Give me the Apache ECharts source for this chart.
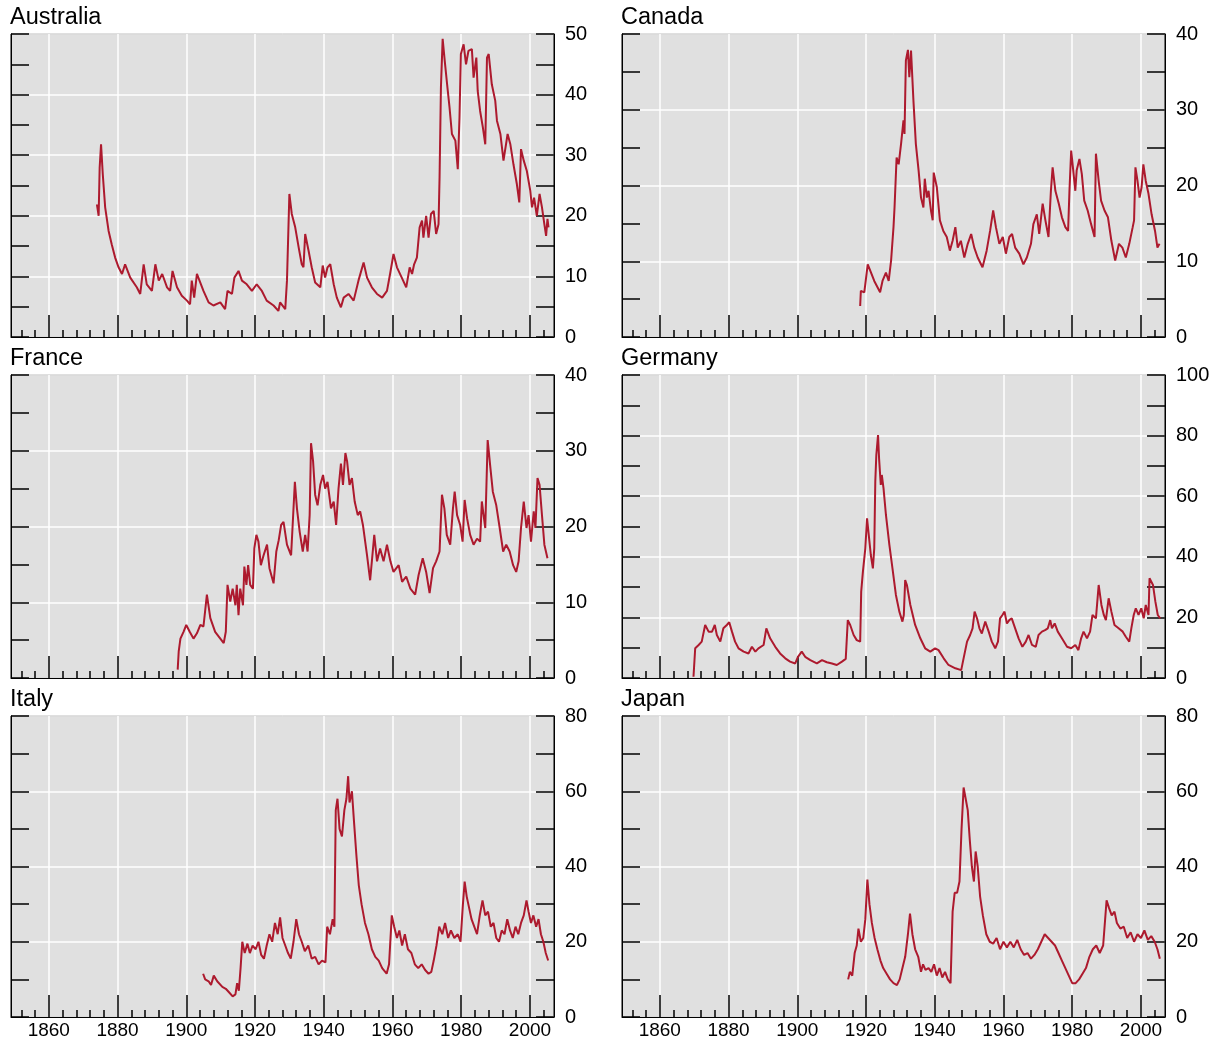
<!DOCTYPE html>
<html>
<head>
<meta charset="utf-8">
<script src="https://cdn.jsdelivr.net/npm/echarts@6/dist/echarts.min.js"></script>
<style>
html,body{margin:0;padding:0;background:#fff;}
#chart{width:1214px;height:1040px;}
</style>
</head>
<body>
<div id="chart"></div>
<script>
// ---- data: [year, value] ----
const australia = [[1874.0,21.9],[1874.5,20.0],[1874.8,28],[1875.2,31.8],[1875.7,26.9],[1876.4,21.4],[1877.4,17.5],[1878.3,15.3],[1879.3,13.1],[1880.3,11.5],[1881.3,10.4],[1882.2,12.0],[1883.7,9.8],[1885.6,8.2],[1886.6,7.1],[1887.6,12.0],[1888.5,8.7],[1890,7.6],[1891,12.0],[1892,9.3],[1893,10.4],[1894.4,8.2],[1895.3,7.6],[1896,10.9],[1897.3,8.2],[1898.7,6.8],[1900.2,6.0],[1901.1,5.4],[1901.6,9.3],[1902.3,6.5],[1903.1,10.4],[1905,7.6],[1906.5,5.7],[1907.9,5.2],[1909.9,5.7],[1911.3,4.6],[1912,7.6],[1913.3,7.1],[1914,9.8],[1915.2,10.9],[1916.2,9.3],[1917.6,8.7],[1919.1,7.6],[1920.5,8.7],[1922,7.6],[1923.4,6.0],[1925.4,5.2],[1926.8,4.3],[1927.3,5.7],[1928.8,4.6],[1929.3,9.3],[1930,23.6],[1930.7,20.3],[1931.7,18.1],[1932.7,14.8],[1933.6,12.0],[1934.1,11.5],[1934.6,17.0],[1935.6,14.2],[1936.5,11.5],[1937.5,9.0],[1939,8.2],[1939.7,11.8],[1940.4,9.8],[1941.1,11.5],[1941.9,12.0],[1942.9,8.7],[1943.8,6.5],[1945,4.9],[1945.8,6.5],[1947.2,7.1],[1948.7,6.0],[1950.1,9.3],[1951.6,12.3],[1952.6,9.8],[1954,8.2],[1955.5,7.1],[1957,6.5],[1958.4,7.6],[1959.3,10.4],[1960.3,13.7],[1961.3,11.5],[1962.7,9.8],[1964,8.2],[1965,11.5],[1965.7,10.4],[1966.3,12.0],[1967.1,13.1],[1967.9,18.1],[1968.6,19.2],[1969,16.4],[1969.8,20.0],[1970.5,16.4],[1971.2,20.3],[1972,20.8],[1972.7,17.0],[1973.4,18.6],[1973.7,26.3],[1974.1,41.2],[1974.6,49.2],[1975.2,45.6],[1975.9,41.7],[1976.6,37.9],[1977.3,33.5],[1978.3,32.4],[1979,27.7],[1979.5,36.2],[1979.9,46.7],[1980.7,48.3],[1981.4,45.0],[1982.1,47.2],[1983.1,47.5],[1983.6,42.8],[1984.4,46.1],[1984.8,40.6],[1985.5,37.3],[1986.3,34.6],[1987,31.8],[1987.5,46.1],[1988,46.7],[1988.9,41.7],[1989.9,39.0],[1990.4,35.7],[1991.4,33.5],[1992.3,29.1],[1993.5,33.5],[1994.3,31.8],[1995.2,28.5],[1996.2,25.2],[1996.9,22.2],[1997.4,31.0],[1998.2,29.1],[1999.1,27.4],[2000.1,24.1],[2000.6,21.4],[2001.2,23.0],[2002,20.0],[2002.8,23.6],[2003.5,21.4],[2004.2,18.6],[2004.7,16.7],[2005.1,19.5],[2005.4,18.1]];

const canada = [[1918.3,4.1],[1918.5,6.1],[1919.5,5.9],[1920.5,9.6],[1921.2,8.8],[1922.4,7.4],[1924.1,5.9],[1924.8,7.4],[1925.8,8.5],[1926.6,7.4],[1927.3,10.1],[1928,14.5],[1928.3,17.1],[1928.9,23.7],[1929.5,22.8],[1930.2,25.5],[1930.9,28.6],[1931.2,26.8],[1931.6,36.5],[1932.2,37.9],[1932.6,34.3],[1933.1,37.8],[1933.8,31.2],[1934.5,25.5],[1935.3,22.0],[1936,18.4],[1936.7,17.1],[1937.1,20.9],[1937.7,18.4],[1938.2,19.3],[1938.9,16.7],[1939.4,15.4],[1939.7,21.7],[1940.6,19.8],[1941.5,15.4],[1942.5,14.0],[1943.5,13.2],[1944.4,11.4],[1945.2,12.7],[1946,14.5],[1946.7,11.8],[1947.6,12.7],[1948.6,10.5],[1949.6,12.3],[1950.6,13.6],[1951.5,11.8],[1952.5,10.5],[1953.9,9.2],[1955.1,11.4],[1956.1,14.0],[1957,16.7],[1957.8,14.5],[1958.8,12.3],[1959.8,13.2],[1960.7,11.0],[1961.7,13.2],[1962.5,13.6],[1963.4,11.8],[1964.6,11.0],[1965.8,9.6],[1966.8,10.5],[1968,12.3],[1968.7,14.9],[1969.7,16.2],[1970.4,13.6],[1971.4,17.6],[1972.2,15.4],[1973.1,13.2],[1973.8,19.3],[1974.3,22.4],[1975.1,19.3],[1976.1,17.6],[1977,15.8],[1978,14.5],[1978.8,14.0],[1979.2,19.3],[1979.7,24.6],[1980.3,22.0],[1980.9,19.3],[1981.3,22.0],[1982.1,23.5],[1982.8,21.5],[1983.5,18.0],[1984.5,16.7],[1985.5,14.9],[1986.5,13.2],[1986.9,24.2],[1987.7,20.6],[1988.4,18.0],[1989.4,16.7],[1990.4,15.8],[1991.4,12.7],[1992.5,10.1],[1993.6,12.3],[1994.6,11.8],[1995.6,10.5],[1996.6,12.3],[1997.6,14.5],[1998,15.4],[1998.4,22.4],[1999,20.6],[1999.6,18.4],[2000.2,19.8],[2000.7,22.8],[2001.4,20.6],[2002.2,18.9],[2003.1,16.2],[2004.1,14.0],[2004.8,11.8],[2005.4,12.3]];

const france = [[1897.5,1.1],[1897.8,3.5],[1898.3,5.2],[1899.2,6.1],[1900,7.0],[1901,6.1],[1902.1,5.2],[1903.1,5.9],[1904.1,7.0],[1905,6.8],[1906,11.0],[1907,7.9],[1908.4,6.1],[1909.9,5.2],[1910.9,4.6],[1911.5,6.1],[1912,12.3],[1912.8,10.1],[1913.5,11.8],[1914.3,9.6],[1914.7,12.3],[1915.2,8.3],[1915.7,11.8],[1916.5,9.6],[1916.9,14.7],[1917.5,12.3],[1918,14.9],[1918.6,12.3],[1919.4,11.8],[1919.8,17.1],[1920.4,18.9],[1921,18.0],[1921.7,14.9],[1922.5,16.2],[1923.5,17.6],[1924.2,14.5],[1925.4,12.5],[1926.2,16.7],[1926.9,18.2],[1927.6,20.2],[1928.3,20.6],[1929.3,17.6],[1930.5,16.2],[1931,20.6],[1931.6,25.9],[1932.2,22.4],[1933,19.3],[1933.9,16.7],[1934.6,18.9],[1935.3,16.7],[1935.9,21.5],[1936.3,31.0],[1936.9,28.6],[1937.5,24.2],[1938.2,22.8],[1939,25.5],[1939.8,26.8],[1940.4,25.0],[1941.1,25.9],[1942.1,22.4],[1942.9,23.3],[1943.6,20.2],[1944.3,25.0],[1945,28.3],[1945.6,25.5],[1946.3,29.7],[1946.8,28.6],[1947.5,25.5],[1948.2,26.4],[1949,23.3],[1949.9,21.5],[1950.6,22.0],[1951.4,20.2],[1952.6,16.2],[1953.5,12.9],[1954,15.4],[1954.7,18.9],[1955.5,15.4],[1956.4,17.1],[1957.4,15.4],[1958.4,17.6],[1959.4,15.4],[1960.3,14.0],[1961.8,14.9],[1962.8,12.7],[1964,13.4],[1965.2,11.8],[1966.6,11.0],[1967.6,13.6],[1968.8,15.8],[1969.8,14.0],[1970.8,11.2],[1971.8,14.5],[1972.7,15.4],[1973.7,16.7],[1974.4,24.2],[1975.1,22.4],[1975.8,18.9],[1976.8,17.6],[1977.6,22.4],[1978.1,24.6],[1978.8,21.5],[1979.7,20.2],[1980.4,18.0],[1981,23.5],[1981.7,21.1],[1982.6,18.9],[1983.6,17.6],[1984.6,18.4],[1985.5,18.0],[1986,23.3],[1987,19.8],[1987.7,31.4],[1988.5,27.7],[1989.2,24.6],[1990.2,22.8],[1991.2,19.8],[1992.2,16.7],[1993.1,17.6],[1994.1,16.7],[1995.1,14.9],[1996,14.0],[1996.7,15.4],[1997.4,19.8],[1998.2,23.3],[1999,19.8],[1999.6,21.5],[2000.3,18.0],[2001.1,22.0],[2001.6,19.8],[2002.2,26.4],[2002.8,25.5],[2003.5,21.5],[2004.2,17.6],[2005.1,15.8]];

const germany = [[1869.8,0.4],[1870.3,9.8],[1871.3,10.9],[1872.2,12.0],[1873.2,17.5],[1874.2,15.3],[1875.2,15.3],[1876,17.5],[1876.6,14.2],[1877.6,12.0],[1878.5,16.4],[1879.5,17.5],[1880.2,18.4],[1881,15.3],[1881.9,12.0],[1882.9,9.8],[1884.4,8.7],[1885.8,8.1],[1886.8,10.3],[1887.8,8.7],[1888.7,9.8],[1890.2,10.9],[1891,16.4],[1892.1,13.1],[1893.6,10.3],[1895,8.1],[1896.5,6.5],[1897.9,5.4],[1899.4,4.8],[1900.2,7.0],[1901.3,8.7],[1902.3,7.0],[1903.8,5.9],[1905.7,4.8],[1907.2,5.9],[1908.6,5.2],[1910.1,4.8],[1911.5,4.3],[1913,5.4],[1914.1,6.3],[1914.7,19.1],[1915.4,17.5],[1916.4,14.2],[1917.3,12.5],[1918.3,12.0],[1918.6,28.5],[1919.1,35.1],[1919.8,42.8],[1920.3,52.7],[1920.7,48.3],[1921.4,40.6],[1922,36.2],[1922.4,42.8],[1922.7,64.8],[1923,73.6],[1923.5,80.2],[1923.8,72.5],[1924.3,63.7],[1924.6,67.0],[1925.1,62.6],[1925.8,53.8],[1926.8,43.9],[1927.7,36.2],[1928.7,27.4],[1929.7,21.9],[1930.6,18.6],[1931,20.8],[1931.4,32.3],[1931.9,30.7],[1932.9,24.1],[1934.3,17.5],[1935.8,13.1],[1937.2,9.8],[1938.7,8.7],[1940.1,9.8],[1941.1,9.2],[1942.6,6.5],[1944,4.3],[1946,3.2],[1947.7,2.6],[1948.2,5.4],[1949.4,12.0],[1950.3,14.2],[1951,16.4],[1951.6,21.9],[1952.3,19.7],[1953,16.4],[1953.7,14.7],[1954.7,18.6],[1955.7,15.3],[1956.6,12.0],[1957.6,9.8],[1958.4,12.0],[1959,19.7],[1959.7,20.8],[1960.3,21.9],[1961,18.0],[1961.7,19.1],[1962.4,19.7],[1963.4,16.4],[1964.4,13.1],[1965.5,10.3],[1966.5,12.0],[1967.3,14.2],[1968.3,10.9],[1969.4,10.3],[1970.2,14.2],[1971.2,15.3],[1972.1,15.8],[1972.9,16.4],[1973.6,19.1],[1974.1,16.4],[1974.9,18.0],[1975.8,15.3],[1977,13.1],[1978.5,10.3],[1979.7,9.8],[1980.9,10.9],[1981.8,9.2],[1982.6,13.1],[1983.3,15.3],[1984.3,13.1],[1985.2,15.3],[1985.9,20.8],[1986.9,19.7],[1987.7,30.7],[1988.5,24.1],[1989.2,20.8],[1989.8,19.1],[1990.6,26.3],[1991.4,21.9],[1992.3,17.5],[1993.5,16.4],[1994.7,15.3],[1995.6,13.6],[1996.6,12.0],[1997.2,16.4],[1997.9,20.8],[1998.5,23.0],[1999.3,20.8],[2000.1,23.0],[2000.8,19.7],[2001.4,24.1],[2002.2,20.8],[2002.5,32.9],[2003,32.9],[2003.5,30.7],[2004.2,25.2],[2004.9,20.8],[2005.6,19.7]];

const italy = [[1904.9,11.5],[1905.5,10],[1906.5,9.5],[1907.2,8.5],[1908,11],[1909,9.5],[1910.5,8],[1911.5,7.5],[1912.5,6.5],[1913.5,5.5],[1914.3,6],[1914.8,9],[1915.3,7],[1915.8,13],[1916.3,20],[1917,17],[1917.8,19.5],[1918.5,17],[1919.3,19],[1920.2,18],[1921,20],[1921.8,16.5],[1922.6,15.5],[1923.4,19],[1924.2,22],[1925,20],[1925.8,25],[1926.6,22],[1927.3,26.5],[1928,21],[1928.8,19],[1929.6,17],[1930.4,15.5],[1931.2,20],[1932,26],[1932.8,22],[1933.6,20],[1934.5,17.5],[1935.5,19],[1936.5,15.5],[1937.5,16],[1938.5,14],[1939.5,15],[1940.5,14.5],[1941,24],[1941.8,22],[1942.6,26],[1943.1,24],[1943.5,55],[1944,58],[1944.6,50],[1945.3,48],[1946,55],[1946.6,58],[1947.1,64],[1947.5,57],[1948.2,60],[1948.8,52],[1949.5,43],[1950.2,35],[1951,30],[1952,25],[1953,22],[1954,18],[1955,16],[1956,15],[1957,13],[1958.3,11.5],[1959,14],[1959.8,27],[1960.5,24],[1961.3,21],[1962,23],[1962.8,19],[1963.6,22],[1964.5,18],[1965.5,17],[1966.5,14],[1967.5,13],[1968.5,14],[1969.5,12.5],[1970.5,11.5],[1971.3,12],[1972,15],[1972.8,19],[1973.6,24],[1974.5,22],[1975.3,25],[1976.2,21],[1977,23],[1978,21],[1979,22],[1979.8,20],[1980.5,30],[1981,36],[1981.6,32],[1982.3,29],[1983,26],[1983.8,24],[1984.6,22],[1985.4,27],[1986.2,31],[1987,27],[1987.8,28],[1988.6,24],[1989.4,25],[1990.2,21],[1991,20],[1991.8,23],[1992.6,22],[1993.4,26],[1994.2,23],[1995,21],[1995.8,24],[1996.6,22],[1997.4,25],[1998.2,27],[1999,31],[1999.6,28],[2000.3,25],[2001,27],[2001.8,24],[2002.5,26],[2003.2,22],[2003.9,20],[2004.6,17],[2005.3,15]];

const japan = [[1914.8,10],[1915.3,12],[1916,11],[1916.7,17],[1917.3,19],[1917.8,23.5],[1918.5,20],[1919.2,21],[1919.8,26],[1920.4,36.5],[1921,30],[1921.7,25],[1922.5,21],[1923.3,18],[1924.2,15],[1925,13],[1926,11.5],[1927,10],[1928,9],[1929,8.5],[1929.8,10],[1930.6,13],[1931.4,16],[1932.2,22],[1932.8,27.5],[1933.5,22],[1934.3,18],[1935.2,16],[1936,12],[1936.6,14],[1937.3,12.5],[1938.2,13],[1939,12],[1939.8,14],[1940.6,11],[1941.4,13],[1942.2,10.5],[1943,12],[1943.8,10],[1944.6,9],[1945.2,28],[1945.8,33],[1946.5,33],[1947.2,36],[1947.8,50],[1948.4,61],[1949,58],[1949.6,55],[1950.2,47],[1950.8,40],[1951.4,36],[1951.9,44],[1952.5,40],[1953.2,32],[1954,27],[1955,22],[1956,20],[1957,19.5],[1958,21],[1959,18],[1960,20],[1961,18.5],[1962,20],[1963,18.5],[1964,20.5],[1965,18],[1966,16.5],[1967,17],[1968,15.5],[1969,16.5],[1970,18],[1971,20],[1972,22],[1973,21],[1974,20],[1975,19],[1976,17],[1977,15],[1978,13],[1979,11],[1980,9],[1981,9],[1982,10],[1983,11.5],[1984,13],[1985,16],[1986,18],[1987,19],[1988,17],[1989,19],[1990,31],[1990.7,29],[1991.5,27],[1992.3,28],[1993,25],[1994,23.5],[1995,24],[1996,21],[1997,22.5],[1998,20],[1999,22],[2000,21],[2001,23],[2002,20.5],[2003,21.5],[2004,20],[2004.8,18],[2005.5,15.5]];

const panelNames = ['Australia','Canada','France','Germany','Italy','Japan'];
const panelSeries = [australia, canada, france, germany, italy, japan];
const yMax = [50, 40, 40, 100, 80, 80];
const yStep = [10, 10, 10, 20, 20, 20];
const xMajorTicks = [1860,1880,1900,1920,1940,1960,1980,2000];
const xMinorTicks = [];
for (let y = 1852; y <= 2004; y += 4) xMinorTicks.push(y);

// ---- layout ----
const colLeft = [11, 622];
const rowTop = [34, 375, 716];
const W = 543, H = 303;
const FONT = 'Liberation Sans, Arial, Helvetica, sans-serif';
const RED = '#AD1A2E';

const grids = [], xAxes = [], yAxes = [], series = [], titles = [];
panelNames.forEach((name, i) => {
  const c = i % 2, r = Math.floor(i / 2);
  grids.push({left: colLeft[c], top: rowTop[r], width: W, height: H,
    show: true, backgroundColor: '#E0E0E0', borderColor: '#000', borderWidth: 1});
  titles.push({text: name, left: colLeft[c] - 1, top: rowTop[r] - 28, padding: 0,
    textStyle: {fontSize: 23.5, fontWeight: 'normal', color: '#000', fontFamily: FONT}});
  const bottomRow = r === 2;
  xAxes.push({gridIndex: i, type: 'value', min: 1849, max: 2007, position: 'bottom',
    axisLine: {show: true, lineStyle: {color: '#000', width: 1}},
    axisTick: {show: true, inside: true, length: 22, customValues: xMajorTicks, lineStyle: {color: '#000', width: 1.5}},
    axisLabel: {show: bottomRow, customValues: xMajorTicks, color: '#000', fontSize: 19, fontFamily: FONT, margin: 4, formatter: v => String(v)},
    splitLine: {show: true, lineStyle: {color: '#fff', width: 1.5}}});
  xAxes.push({gridIndex: i, type: 'value', min: 1849, max: 2007, position: 'bottom',
    axisLine: {show: false},
    axisTick: {show: true, inside: true, length: 7, customValues: xMinorTicks, lineStyle: {color: '#000', width: 1.5}},
    axisLabel: {show: false}, splitLine: {show: false}});
  yAxes.push({gridIndex: i, type: 'value', min: 0, max: yMax[i], interval: yStep[i], position: 'right',
    axisLine: {show: true, lineStyle: {color: '#000', width: 1}},
    axisTick: {show: true, inside: true, length: 18, lineStyle: {color: '#000', width: 1.5}},
    minorTick: {show: true, splitNumber: 2, length: 18, lineStyle: {color: '#000', width: 1.5}},
    axisLabel: {show: true, color: '#000', fontSize: 20, fontFamily: FONT, margin: 11},
    splitLine: {show: true, lineStyle: {color: '#fff', width: 1.5}}});
  yAxes.push({gridIndex: i, type: 'value', min: 0, max: yMax[i], interval: yStep[i], position: 'left',
    axisLine: {show: true, lineStyle: {color: '#000', width: 1}},
    axisTick: {show: true, inside: true, length: 18, lineStyle: {color: '#000', width: 1.5}},
    minorTick: {show: true, splitNumber: 2, length: 18, lineStyle: {color: '#000', width: 1.5}},
    axisLabel: {show: false}, splitLine: {show: false}});
  series.push({type: 'line', name: name, xAxisIndex: 2 * i, yAxisIndex: 2 * i,
    data: panelSeries[i], showSymbol: false, symbol: 'none', z: 3,
    lineStyle: {color: RED, width: 2}});
});

const chart = echarts.init(document.getElementById('chart'), null, {renderer: 'canvas'});
chart.setOption({
  animation: false,
  backgroundColor: '#fff',
  title: titles,
  grid: grids,
  xAxis: xAxes,
  yAxis: yAxes,
  series: series
});
</script>
</body>
</html>
